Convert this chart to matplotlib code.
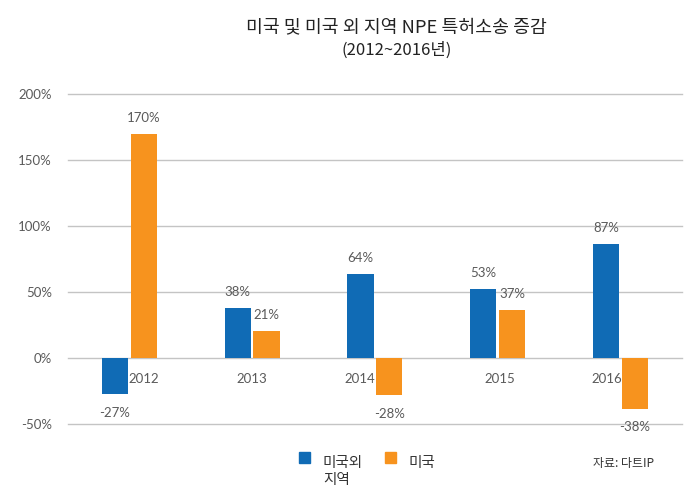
import matplotlib
matplotlib.use("Agg")
import matplotlib.pyplot as plt
from matplotlib.patches import Rectangle

# ---- data ----
years = ["2012", "2013", "2014", "2015", "2016"]
non_us = [-27, 38, 64, 53, 87]      # 미국 외 지역
us = [170, 21, -28, 37, -38]        # 미국
y_ticks = [-50, 0, 50, 100, 150, 200]
title_line1 = "미국 및 미국 외 지역 NPE 특허소송 증감"
title_line2 = "(2012~2016년)"
legend_labels = ["미국외\n지역", "미국"]
source_text = "자료: 다트IP"

# category-label nudges (in category units), as in the reference
label_nudge = [0.115, 0.0, -0.12, 0.015, -0.11]

BLUE = "#106BB5"
ORANGE = "#F7931E"
GRID = "#C4C4C4"
TXT = "#5A5A5A"
KFONT = ["Noto Sans CJK KR", "DejaVu Sans"]
NFONT = ["Lato", "DejaVu Sans"]

fig = plt.figure(figsize=(7.0, 4.93), dpi=100)
ax = fig.add_axes([0.097, 0.139, 0.877, 0.6694])

x = list(range(len(years)))
w = 0.213
off = 0.117
xb = [i - off for i in x]
xo = [i + off for i in x]
ax.bar(xb, non_us, width=w, color=BLUE, zorder=3)
ax.bar(xo, us, width=w, color=ORANGE, zorder=3)

ax.set_xlim(-0.5, len(years) - 0.5)
ax.set_ylim(y_ticks[0], y_ticks[-1])
for t in y_ticks:
    ax.axhline(t, color=GRID, lw=1.0, zorder=1, clip_on=False)
for s in ax.spines.values():
    s.set_visible(False)
ax.set_xticks([])
ax.set_yticks(y_ticks)
ax.set_yticklabels([f"{t}%" for t in y_ticks], fontfamily=NFONT, fontsize=9.5, color=TXT)
ax.tick_params(axis="y", length=0, pad=11.5)

# category labels just below the zero line
for i, yr in enumerate(years):
    ax.annotate(yr, xy=(i + label_nudge[i], 0), xytext=(0, -15), textcoords="offset points",
                ha="center", va="center", fontsize=9.5, color=TXT, fontfamily=NFONT)

# value labels
def vlabel(xs, vals):
    for xi, v in zip(xs, vals):
        dy = 11.5 if v >= 0 else -13.5
        ax.annotate(f"{v}%", xy=(xi, v), xytext=(0, dy), textcoords="offset points",
                    ha="center", va="center", fontsize=9.5, color=TXT, fontfamily=NFONT,
                    annotation_clip=False)

vlabel(xb, non_us)
vlabel(xo, us)

# title
fig.text(0.567, 0.944, title_line1, ha="center", va="center", fontsize=13.2,
         fontfamily=KFONT, color="#222222")
fig.text(0.567, 0.899, title_line2, ha="center", va="center", fontsize=12,
         fontfamily=KFONT, color="#222222")

# legend
fig.patches.append(Rectangle((299 / 700, 1 - 463 / 493), 11 / 700, 11 / 493,
                             transform=fig.transFigure, color=BLUE, figure=fig))
fig.text(323 / 700, 1 - 456 / 493, legend_labels[0], ha="left", va="top",
         fontsize=10.5, fontfamily=KFONT, color="#333333", linespacing=1.25)
fig.patches.append(Rectangle((385 / 700, 1 - 463 / 493), 11 / 700, 11 / 493,
                             transform=fig.transFigure, color=ORANGE, figure=fig))
fig.text(409 / 700, 1 - 456 / 493, legend_labels[1], ha="left", va="top",
         fontsize=10.5, fontfamily=KFONT, color="#333333")

fig.text(593 / 700, 1 - 463 / 493, source_text, ha="left", va="center",
         fontsize=8.6, fontfamily=KFONT, color="#333333")

fig.savefig("out.png", dpi=100, facecolor="white")
